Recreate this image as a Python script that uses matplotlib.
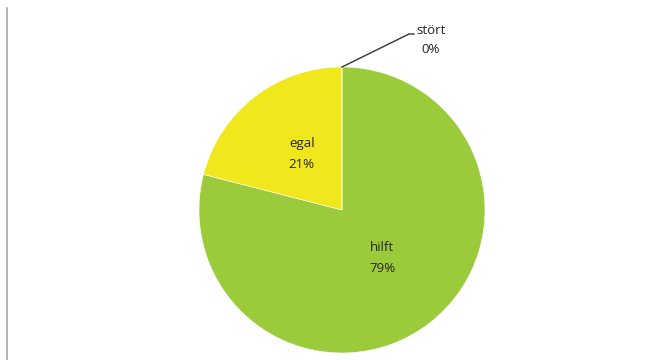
import numpy as np
import matplotlib.pyplot as plt
from matplotlib.lines import Line2D

# Daten
labels = ['hilft', 'egal', 'stört']
values = [79, 21, 0]
colors = ['#9BCB3B', '#F0E81C', '#C0504D']

fig = plt.figure(figsize=(6.66, 3.6), dpi=100)
ax = fig.add_axes([0, 0, 1, 1])

center = (342, 150)
radius = 143

wedges, _ = ax.pie(values, colors=colors, startangle=90, counterclock=False,
                   center=center, radius=radius, frame=True,
                   wedgeprops=dict(edgecolor='white', linewidth=0.4))
ax.set_xlim(0, 666)
ax.set_ylim(0, 360)
ax.set_aspect('equal')
ax.axis('off')

total = sum(values)
for w, lab, v in zip(wedges, labels, values):
    mid = np.deg2rad((w.theta1 + w.theta2) / 2)
    txt = f'{lab}\n{round(100 * v / total)}%'
    if v > 0:
        x = center[0] + 0.46 * radius * np.cos(mid)
        y = center[1] + 0.46 * radius * np.sin(mid)
        ax.text(x, y + 4, txt, ha='center', va='center', fontsize=9.5,
                family='Open Sans', color='#262626', linespacing=1.75)
    else:
        # Leader line for the 0% slice
        x0 = center[0] + radius * np.cos(mid)
        y0 = center[1] + radius * np.sin(mid)
        ax.plot([x0, x0 + 67, x0 + 72], [y0, y0 + 33, y0 + 33],
                color='#333333', lw=1)
        ax.text(x0 + 89, y0 + 27, txt, ha='center', va='center', fontsize=9.5,
                family='Open Sans', color='#262626', linespacing=1.6)

# linke Rahmenlinie
fig.add_artist(Line2D([6.5 / 666, 6.5 / 666], [0, 1 - 8 / 360],
                      transform=fig.transFigure, color='#A6A6A6', lw=1.2))

fig.savefig('out.png', dpi=100)
